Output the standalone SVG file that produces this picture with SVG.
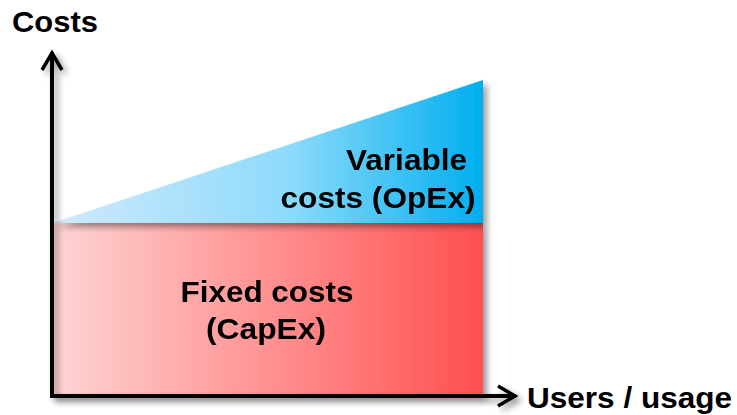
<svg xmlns="http://www.w3.org/2000/svg" width="737" height="415" viewBox="0 0 737 415">
<defs>
<linearGradient id="gRed" x1="0" y1="0" x2="1" y2="0">
<stop offset="0" stop-color="#ffd4d4"/>
<stop offset="1" stop-color="#ff4f4f"/>
</linearGradient>
<linearGradient id="gBlue" x1="0" y1="0" x2="1" y2="0">
<stop offset="0" stop-color="#d0e9fc"/>
<stop offset="0.55" stop-color="#8ddbfb"/>
<stop offset="1" stop-color="#00aeef"/>
</linearGradient>
<filter id="shadow" x="-10%" y="-10%" width="130%" height="130%">
<feGaussianBlur in="SourceAlpha" stdDeviation="3"/>
<feOffset dx="4" dy="4" result="b"/>
<feComponentTransfer><feFuncA type="linear" slope="0.4"/></feComponentTransfer>
<feMerge><feMergeNode/><feMergeNode in="SourceGraphic"/></feMerge>
</filter>
<marker id="chev" markerWidth="24" markerHeight="26" refX="21" refY="12" orient="auto" markerUnits="userSpaceOnUse">
<path d="M3,2 L20,12 L3,22" fill="none" stroke="#000" stroke-width="3.5" stroke-linejoin="miter"/>
</marker>
</defs>
<style>
.lbl{font-family:"Liberation Sans",Arial,sans-serif;font-weight:bold;font-size:30px;fill:#000}
.axis{stroke:#000;stroke-width:4;fill:none}
</style>
<g id="fixed-costs" filter="url(#shadow)">
<rect x="53" y="223" width="430" height="173" fill="url(#gRed)"/>
<text class="lbl" x="267" y="302" text-anchor="middle" textLength="173" lengthAdjust="spacingAndGlyphs">Fixed costs</text>
<text class="lbl" x="266" y="339" text-anchor="middle" textLength="120" lengthAdjust="spacingAndGlyphs">(CapEx)</text>
</g>
<g id="variable-costs" filter="url(#shadow)">
<polygon points="53,223 483,80 483,223" fill="url(#gBlue)"/>
<text class="lbl" x="406.5" y="170" text-anchor="middle" textLength="121" lengthAdjust="spacingAndGlyphs">Variable</text>
<text class="lbl" x="378" y="208" text-anchor="middle" textLength="195" lengthAdjust="spacingAndGlyphs">costs (OpEx)</text>
</g>
<g id="connectors" filter="url(#shadow)">
<polyline class="axis" points="52,397 52,52" marker-end="url(#chev)"/>
<polyline class="axis" points="50,396 516,396" marker-end="url(#chev)"/>
</g>
<g id="labels">
<text class="lbl" x="12" y="32" textLength="86" lengthAdjust="spacingAndGlyphs">Costs</text>
<text class="lbl" x="527" y="408" style="font-size:29px" textLength="205" lengthAdjust="spacingAndGlyphs">Users / usage</text>
</g>
</svg>
